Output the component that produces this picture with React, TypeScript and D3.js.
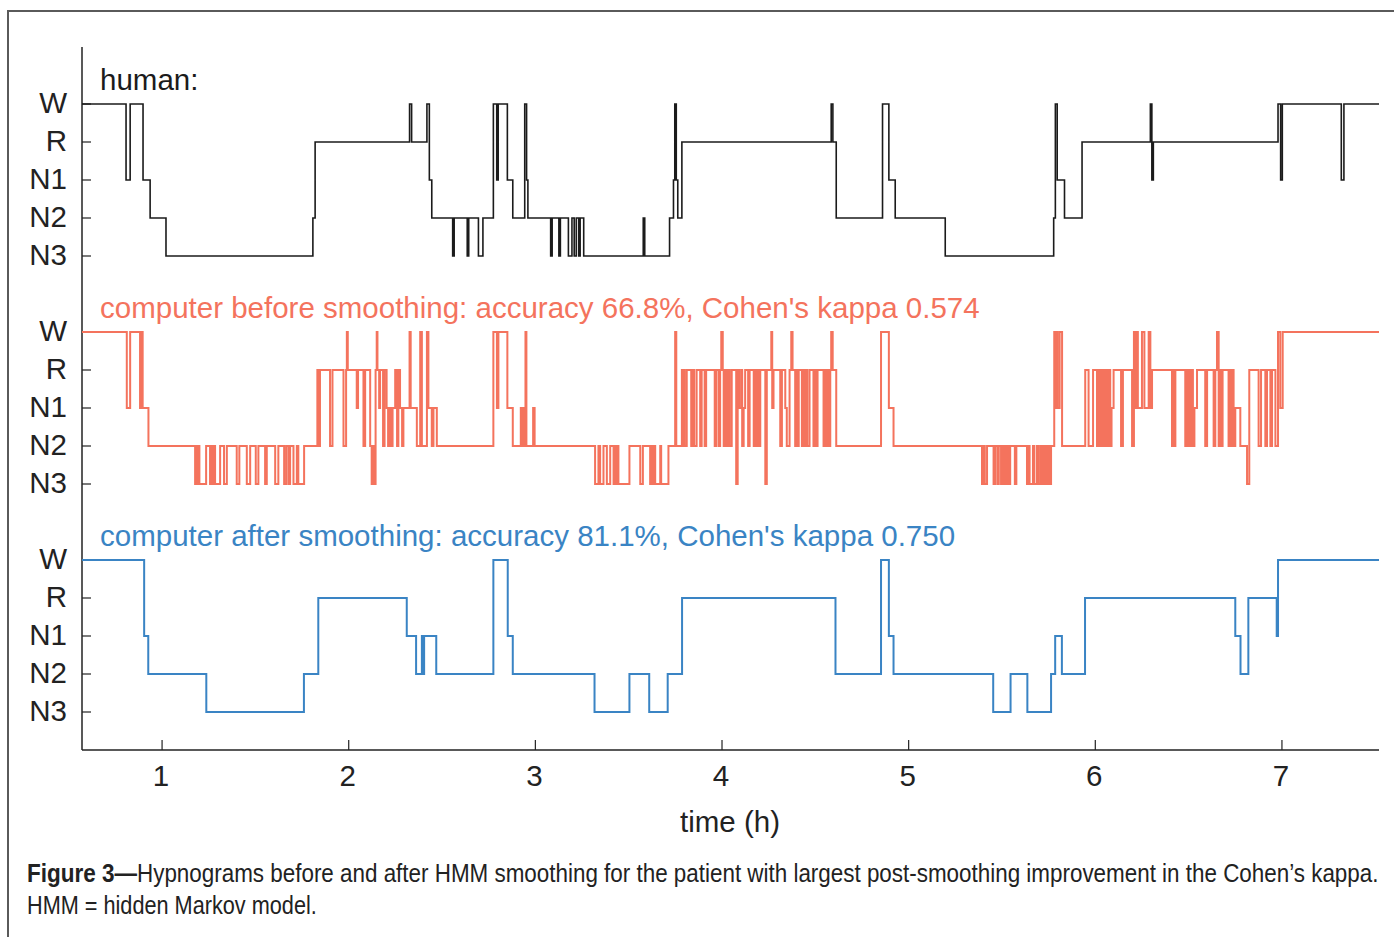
import React from "react";
import * as d3 from "d3";

type Stage = "W" | "R" | "N1" | "N2" | "N3";
type Base = [number, Stage][];
type Ex = [number, number, Stage][];

const STAGES: Stage[] = ["W", "R", "N1", "N2", "N3"];
const HOUR_TICKS = [1, 2, 3, 4, 5, 6, 7];
const TIME_START = 0.571;
const TIME_END = 7.52;

const PANEL_TITLES = [
  "human:",
  "computer before smoothing: accuracy 66.8%, Cohen's kappa 0.574",
  "computer after smoothing: accuracy 81.1%, Cohen's kappa 0.750",
];
const PANEL_COLORS = ["#1b1b1b", "#F4735D", "#3A84C4"];

// human scoring: long stages + brief excursions
const humanBase: Base = [
  [0.571, "W"], [0.807, "N1"], [0.829, "W"], [0.898, "N1"], [0.936, "N2"], [1.021, "N3"],
  [1.808, "N2"], [1.82, "R"], [2.419, "W"], [2.432, "N1"], [2.445, "N2"], [2.775, "W"],
  [2.85, "N1"], [2.879, "N2"], [3.208, "N3"], [3.719, "N2"], [3.74, "N1"], [3.763, "N2"],
  [3.785, "R"], [4.612, "N2"], [4.86, "W"], [4.894, "N1"], [4.928, "N2"], [5.196, "N3"],
  [5.777, "N2"], [5.786, "W"], [5.796, "N1"], [5.835, "N2"], [5.929, "R"], [6.979, "W"],
  [6.993, "N1"], [7.002, "W"], [7.318, "N1"], [7.332, "W"],
];
const humanEx: Ex = [
  [2.326, 2.337, "W"], [2.557, 2.565, "N3"], [2.635, 2.643, "N3"], [2.695, 2.719, "N3"],
  [2.793, 2.801, "N1"], [2.943, 2.953, "W"], [2.953, 2.96, "N1"], [3.082, 3.09, "N3"],
  [3.126, 3.134, "N3"], [3.177, 3.196, "N3"], [3.219, 3.232, "N2"], [3.24, 3.259, "N2"],
  [3.578, 3.586, "N2"], [3.747, 3.755, "W"], [4.585, 4.594, "W"], [6.295, 6.303, "W"],
  [6.303, 6.311, "N1"],
];

// computer before smoothing
const rawBase: Base = [
  [0.571, "W"], [0.811, "N1"], [0.829, "W"], [0.882, "N1"], [0.927, "N2"], [1.832, "R"],
  [2.445, "N2"], [2.775, "W"], [2.85, "N1"], [2.879, "N2"], [3.785, "R"], [4.612, "N2"],
  [4.852, "W"], [4.894, "N1"], [4.919, "N2"], [5.946, "R"], [5.964, "N2"], [5.988, "R"],
  [7.004, "W"],
];
const rawEx: Ex = [
  [0.89, 0.896, "W"],
  [1.177, 1.182, "N3"], [1.188, 1.193, "N3"], [1.2, 1.236, "N3"], [1.257, 1.264, "N3"],
  [1.272, 1.279, "N3"], [1.284, 1.311, "N3"], [1.332, 1.347, "N3"], [1.4, 1.414, "N3"],
  [1.454, 1.472, "N3"], [1.502, 1.516, "N3"], [1.552, 1.561, "N3"], [1.606, 1.623, "N3"],
  [1.654, 1.665, "N3"], [1.677, 1.686, "N3"], [1.704, 1.722, "N3"], [1.73, 1.761, "N3"],
  [1.839, 1.846, "N2"], [1.9, 1.913, "N2"], [1.972, 1.986, "N2"], [1.99, 1.995, "W"],
  [2.043, 2.05, "N1"], [2.079, 2.088, "N2"], [2.115, 2.123, "N2"], [2.123, 2.131, "N3"],
  [2.131, 2.136, "N2"], [2.136, 2.144, "N3"], [2.15, 2.154, "W"], [2.163, 2.168, "N1"],
  [2.184, 2.192, "N2"], [2.203, 2.211, "N1"], [2.211, 2.219, "N2"], [2.219, 2.227, "N1"],
  [2.227, 2.235, "N2"], [2.235, 2.249, "N1"], [2.259, 2.266, "N2"], [2.275, 2.286, "N1"],
  [2.286, 2.293, "N2"], [2.293, 2.326, "N1"], [2.326, 2.332, "W"], [2.332, 2.365, "N1"],
  [2.365, 2.383, "N2"], [2.383, 2.392, "W"], [2.392, 2.419, "N2"], [2.419, 2.427, "W"],
  [2.427, 2.445, "N1"], [2.454, 2.472, "N1"],
  [2.794, 2.802, "N1"], [2.922, 2.93, "N1"], [2.934, 2.941, "N1"], [2.947, 2.952, "W"],
  [2.988, 2.996, "N1"],
  [3.32, 3.338, "N3"], [3.347, 3.365, "N3"], [3.383, 3.401, "N3"], [3.419, 3.428, "N3"],
  [3.433, 3.438, "N3"], [3.445, 3.504, "N3"], [3.562, 3.576, "N3"], [3.615, 3.623, "N3"],
  [3.629, 3.637, "N3"], [3.642, 3.669, "N3"], [3.674, 3.713, "N3"], [3.749, 3.755, "W"],
  [3.787, 3.794, "N2"], [3.8, 3.811, "N2"], [3.835, 3.843, "N2"], [3.851, 3.864, "N2"],
  [3.883, 3.891, "N2"], [3.907, 3.915, "N2"], [3.961, 3.969, "N2"], [3.982, 3.99, "N2"],
  [3.996, 4.004, "W"], [4.009, 4.017, "N2"], [4.023, 4.033, "N2"], [4.041, 4.052, "N2"],
  [4.076, 4.084, "N3"], [4.092, 4.103, "N1"], [4.108, 4.116, "N2"], [4.116, 4.124, "N1"],
  [4.14, 4.148, "N2"], [4.17, 4.178, "N2"], [4.183, 4.191, "N2"], [4.197, 4.205, "N2"],
  [4.232, 4.24, "N3"], [4.264, 4.269, "W"], [4.269, 4.276, "N1"], [4.312, 4.321, "N2"],
  [4.339, 4.347, "N1"], [4.347, 4.362, "N2"], [4.371, 4.378, "W"], [4.392, 4.4, "N2"],
  [4.405, 4.411, "N2"], [4.428, 4.438, "N2"], [4.443, 4.451, "N2"], [4.457, 4.469, "N2"],
  [4.49, 4.498, "N2"], [4.505, 4.512, "N2"], [4.544, 4.553, "N2"], [4.558, 4.566, "N2"],
  [4.572, 4.58, "N2"], [4.585, 4.593, "W"],
  [5.393, 5.402, "N3"], [5.408, 5.42, "N3"], [5.455, 5.464, "N3"], [5.476, 5.483, "N3"],
  [5.495, 5.502, "N3"], [5.51, 5.518, "N3"], [5.522, 5.528, "N3"], [5.534, 5.544, "N3"],
  [5.569, 5.577, "N3"], [5.634, 5.644, "N3"], [5.648, 5.666, "N3"], [5.673, 5.687, "N3"],
  [5.694, 5.705, "N3"], [5.713, 5.723, "N3"], [5.728, 5.737, "N3"], [5.743, 5.751, "N3"],
  [5.755, 5.763, "N3"], [5.78, 5.787, "W"], [5.787, 5.791, "N1"], [5.791, 5.798, "W"],
  [5.798, 5.809, "N1"], [5.809, 5.822, "W"],
  [6.009, 6.016, "N2"], [6.021, 6.029, "N2"], [6.035, 6.043, "N2"], [6.048, 6.056, "N2"],
  [6.062, 6.071, "N2"], [6.08, 6.087, "N2"], [6.087, 6.098, "N1"], [6.138, 6.148, "N2"],
  [6.197, 6.207, "N2"], [6.207, 6.217, "W"], [6.217, 6.221, "N1"], [6.221, 6.228, "W"],
  [6.228, 6.25, "N1"], [6.25, 6.263, "W"], [6.263, 6.286, "N1"], [6.286, 6.295, "W"],
  [6.295, 6.304, "N1"], [6.411, 6.418, "N2"], [6.423, 6.429, "N2"], [6.482, 6.49, "N2"],
  [6.496, 6.504, "N2"], [6.509, 6.517, "N2"], [6.523, 6.531, "N2"], [6.531, 6.545, "N1"],
  [6.589, 6.599, "N2"], [6.634, 6.643, "N2"], [6.652, 6.661, "W"], [6.661, 6.669, "N2"],
  [6.674, 6.682, "N2"], [6.714, 6.722, "N2"], [6.728, 6.736, "N2"], [6.741, 6.75, "N2"],
  [6.75, 6.777, "N1"], [6.777, 6.813, "N2"], [6.813, 6.825, "N3"], [6.875, 6.888, "N2"],
  [6.911, 6.92, "N2"], [6.938, 6.947, "N2"], [6.965, 6.979, "N2"], [6.979, 6.991, "W"],
  [6.991, 7.004, "N1"],
];

// computer after HMM smoothing
const smoothBase: Base = [
  [0.571, "W"], [0.904, "N1"], [0.926, "N2"], [1.237, "N3"], [1.76, "N2"], [1.837, "R"],
  [2.311, "N1"], [2.361, "N2"], [2.392, "N1"], [2.397, "N2"], [2.404, "N1"], [2.469, "N2"],
  [2.775, "W"], [2.852, "N1"], [2.879, "N2"], [3.317, "N3"], [3.504, "N2"], [3.61, "N3"],
  [3.709, "N2"], [3.786, "R"], [4.608, "N2"], [4.852, "W"], [4.894, "N1"], [4.919, "N2"],
  [5.453, "N3"], [5.546, "N2"], [5.636, "N3"], [5.763, "N2"], [5.785, "N1"], [5.821, "N2"],
  [5.945, "R"], [6.75, "N1"], [6.778, "N2"], [6.82, "R"], [6.972, "N1"], [6.979, "W"],
];
const smoothEx: Ex = [];

const CAPTION_BOLD = "Figure 3—";
const CAPTION_LINE1 =
  "Hypnograms before and after HMM smoothing for the patient with largest post-smoothing improvement in the Cohen’s kappa.";
const CAPTION_LINE2 = "HMM = hidden Markov model.";

type Pt = { t: number; s: Stage };

function buildSteps(base: Base, ex: Ex): Pt[] {
  const set = new Set<number>();
  base.forEach((b) => set.add(b[0]));
  ex.forEach((e) => {
    set.add(e[0]);
    set.add(e[1]);
  });
  set.add(TIME_END);
  const ts = Array.from(set).sort((a, b) => a - b);
  const out: Pt[] = [];
  for (let i = 0; i < ts.length - 1; i++) {
    const mid = (ts[i] + ts[i + 1]) / 2;
    let st: Stage = base[0][1];
    for (const b of base) if (b[0] <= mid) st = b[1];
    for (const e of ex) if (e[0] <= mid && mid < e[1]) st = e[2];
    if (out.length && out[out.length - 1].s === st) continue;
    out.push({ t: ts[i], s: st });
  }
  out.push({ t: TIME_END, s: out[out.length - 1].s });
  return out;
}

const SERIES = [
  buildSteps(humanBase, humanEx),
  buildSteps(rawBase, rawEx),
  buildSteps(smoothBase, smoothEx),
];

const W = 1394;
const H = 937;
const FONT = "'Liberation Sans', Arial, Helvetica, sans-serif";
const FS = 29.5;
const CAP_FS = 25;

function measure(text: string, size: number, bold: boolean): number {
  const c = document.createElement("canvas").getContext("2d");
  if (!c) return text.length * size * 0.5;
  c.font = `${bold ? "bold " : ""}${size}px 'Liberation Sans', Arial, sans-serif`;
  return c.measureText(text).width;
}

function Squeezed(props: { text: string; x: number; y: number; width: number; bold?: boolean }) {
  const natural = measure(props.text, CAP_FS, !!props.bold);
  const sx = props.width / natural;
  return (
    <text
      transform={`translate(${props.x},${props.y}) scale(${sx},1)`}
      fontSize={CAP_FS}
      fontWeight={props.bold ? "bold" : "normal"}
      fill="#222"
    >
      {props.text}
    </text>
  );
}

export default function App() {
  const x = d3.scaleLinear().domain([TIME_START, TIME_END]).range([82, 1379]);
  // 6 slots per panel (5 stages + gap)
  const y = d3.scaleLinear().domain([0, 17]).range([104, 750]);
  const yOf = (panel: number, s: Stage) => y(panel * 6 + STAGES.indexOf(s));

  const lines = SERIES.map((pts, p) =>
    d3
      .line<Pt>()
      .x((d) => x(d.t))
      .y((d) => yOf(p, d.s))
      .curve(d3.curveStepAfter)(pts) as string
  );

  const axisTop = y(-1.5);
  const axisBottom = y(17);

  return (
    <svg
      width={W}
      height={H}
      style={{ position: "absolute", left: 0, top: 0, background: "#fff" }}
      fontFamily={FONT}
    >
      <rect x={0} y={0} width={W} height={H} fill="#fff" />
      {/* frame */}
      <path d={`M8,${H} L8,11 L${W},11`} fill="none" stroke="#5a5a5a" strokeWidth={2} />

      {/* axes */}
      <line x1={82} x2={82} y1={axisTop} y2={axisBottom} stroke="#222" strokeWidth={1.5} />
      <line x1={82} x2={1379} y1={axisBottom} y2={axisBottom} stroke="#222" strokeWidth={1.5} />

      {HOUR_TICKS.map((h) => (
        <g key={h}>
          <line x1={x(h)} x2={x(h)} y1={axisBottom} y2={axisBottom - 10} stroke="#222" strokeWidth={1.2} />
          <text x={x(h) - 1} y={786} textAnchor="middle" fontSize={FS} fill="#222">
            {h}
          </text>
        </g>
      ))}
      <text x={730} y={832} textAnchor="middle" fontSize={FS} fill="#222">
        time (h)
      </text>

      {[0, 1, 2].map((p) => (
        <g key={p}>
          {STAGES.map((s) => (
            <g key={s}>
              <line x1={82} x2={91} y1={yOf(p, s)} y2={yOf(p, s)} stroke="#222" strokeWidth={1.2} />
              <text x={67} y={yOf(p, s) + 9} textAnchor="end" fontSize={FS} fill="#222">
                {s}
              </text>
            </g>
          ))}
          <text x={100} y={yOf(p, "W") - 14} fontSize={FS} fill={PANEL_COLORS[p]}>
            {PANEL_TITLES[p]}
          </text>
          <path
            d={lines[p]}
            fill="none"
            stroke={PANEL_COLORS[p]}
            strokeWidth={p === 0 ? 1.6 : 2}
            strokeLinejoin="miter"
          />
        </g>
      ))}

      {/* caption */}
      <Squeezed text={CAPTION_BOLD} x={27} y={882} width={110} bold />
      <Squeezed text={CAPTION_LINE1} x={137} y={882} width={1242} />
      <Squeezed text={CAPTION_LINE2} x={27} y={914} width={290} />
    </svg>
  );
}
